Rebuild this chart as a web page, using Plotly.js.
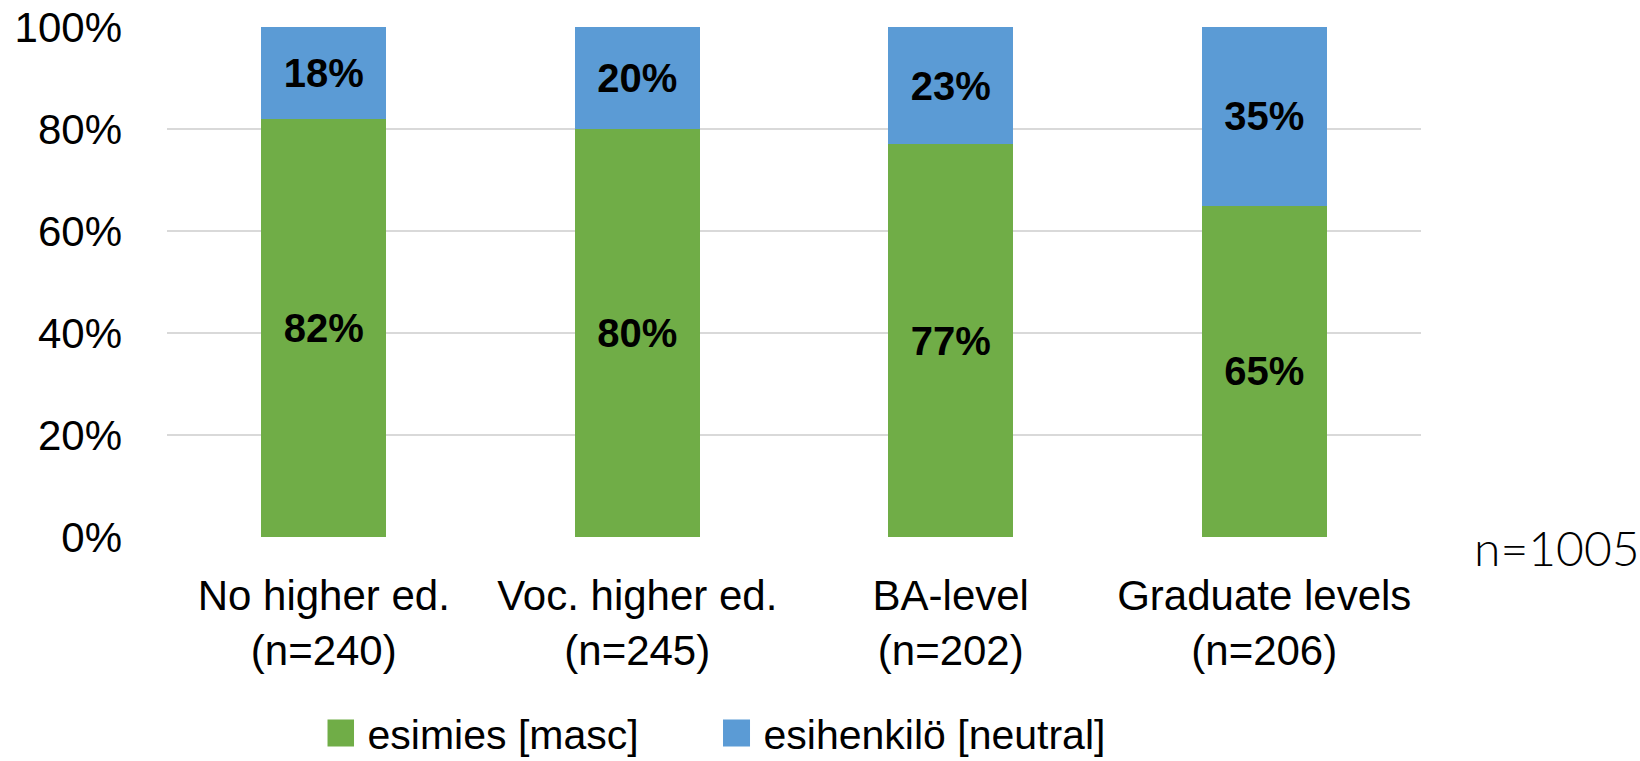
<!DOCTYPE html>
<html>
<head>
<meta charset="utf-8">
<script src="https://cdn.plot.ly/plotly-3.0.1.min.js"></script>
<style>
  html, body { margin: 0; padding: 0; background: #ffffff; }
  #chart { width: 1640px; height: 761px; }
</style>
</head>
<body>
<div id="chart"></div>
<script>
// Education level groups (x axis)
const categories = [
  "No higher ed.<br>(n=240)",
  "Voc. higher ed.<br>(n=245)",
  "BA-level<br>(n=202)",
  "Graduate levels<br>(n=206)"
];

// Share of respondents choosing each word, in percent
const esimiesMasc = [82, 80, 77, 65];
const esihenkiloNeutral = [18, 20, 23, 35];

const seriesNames = ["esimies [masc]", "esihenkilö [neutral]"];
const yTicks = [0, 20, 40, 60, 80, 100];
const totalLabel = "n=1005";

const baseFont = "Liberation Sans, Arial, sans-serif";
const labelFont = { family: baseFont, size: 40, color: "#000000", weight: "bold" };

function pctLabels(values) {
  return values.map(v => "<b>" + v + "%</b>");
}

const traces = [
  {
    type: "bar",
    name: seriesNames[0],
    x: categories,
    y: esimiesMasc,
    text: pctLabels(esimiesMasc),
    texttemplate: "%{text}",
    marker: { color: "#70AD47" },
    textposition: "inside",
    insidetextanchor: "middle",
    textangle: 0,
    textfont: labelFont,
    hoverinfo: "skip"
  },
  {
    type: "bar",
    name: seriesNames[1],
    x: categories,
    y: esihenkiloNeutral,
    text: pctLabels(esihenkiloNeutral),
    texttemplate: "%{text}",
    marker: { color: "#5B9BD5" },
    textposition: "inside",
    insidetextanchor: "middle",
    textangle: 0,
    textfont: labelFont,
    hoverinfo: "skip"
  }
];

const layout = {
  width: 1640,
  height: 761,
  margin: { l: 167, r: 219, t: 27, b: 224, autoexpand: false },
  paper_bgcolor: "#ffffff",
  plot_bgcolor: "#ffffff",
  barmode: "stack",
  bargap: 0.6,
  font: { family: baseFont, size: 42, color: "#000000" },
  showlegend: true,
  legend: {
    orientation: "h",
    x: 0.128,
    xanchor: "left",
    y: -0.385,
    yanchor: "middle",
    font: { family: baseFont, size: 41, color: "#000000" },
    itemwidth: 30,
    entrywidth: 351,
    entrywidthmode: "pixels",
    traceorder: "normal"
  },
  xaxis: {
    type: "category",
    automargin: false,
    showgrid: false,
    zeroline: false,
    showline: false,
    ticks: "",
    ticklabelstandoff: 30,
    tickfont: { family: baseFont, size: 42, color: "#000000" }
  },
  yaxis: {
    automargin: false,
    range: [0, 100],
    tickvals: yTicks,
    ticktext: yTicks.map(v => v + "%"),
    showgrid: true,
    gridcolor: "#D9D9D9",
    gridwidth: 2,
    zeroline: false,
    showline: false,
    ticks: "",
    ticklabelstandoff: 44,
    tickfont: { family: baseFont, size: 42, color: "#000000" }
  },
  annotations: [
    {
      text: totalLabel,
      xref: "paper",
      yref: "paper",
      x: 1.0407,
      xanchor: "left",
      y: -0.02,
      yanchor: "middle",
      showarrow: false,
      font: { family: "Lato, sans-serif", size: 48, color: "#000000", weight: 300 }
    }
  ]
};

// Larger square legend swatches, set just left of each legend label
function enlargeLegendSwatches(gd) {
  gd.querySelectorAll(".legend .legendpoints path").forEach(p => {
    p.setAttribute("d", "M6.5,13.5H-20.5V-13.5H6.5Z");
  });
}

const gd = document.getElementById("chart");
Plotly.newPlot(gd, traces, layout, { staticPlot: true, displayModeBar: false })
  .then(() => enlargeLegendSwatches(gd));
</script>
</body>
</html>
